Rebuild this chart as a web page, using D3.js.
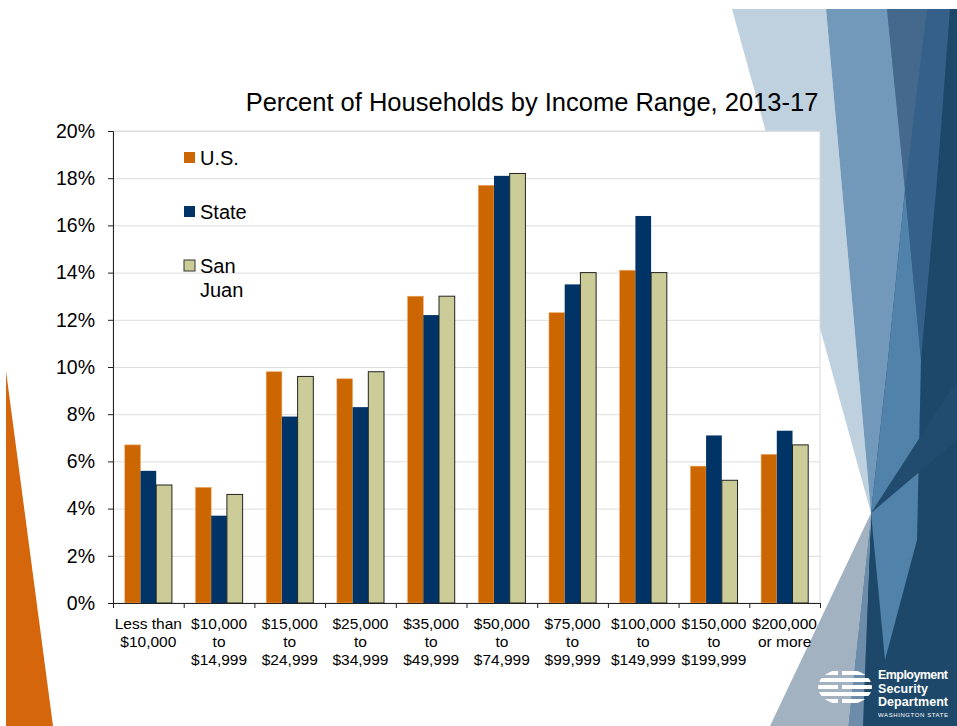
<!DOCTYPE html>
<html lang="en">
<head>
    <meta charset="UTF-8">
    <title>Percent of Households by Income Range</title>
    <style>
        body { margin: 0; background: #fff; }
        svg text { font-family: "Liberation Sans", Arial, sans-serif; fill: #000; }
        .grid line { stroke: #dddddd; }
        .grid path { display: none; }
        .axis path, .axis line { stroke: #222; }
    </style>
    <script src="https://d3js.org/d3.v7.min.js"></script>
</head>
<body>
<svg width="957" height="726"></svg>
<script>
    // data (percent of households)
    var categories = ["<10k", "10-15k", "15-25k", "25-35k", "35-50k", "50-75k", "75-100k", "100-150k", "150-200k", "200k+"];
    var xLabels = [
        ["Less than", "$10,000"],
        ["$10,000", "to", "$14,999"],
        ["$15,000", "to", "$24,999"],
        ["$25,000", "to", "$34,999"],
        ["$35,000", "to", "$49,999"],
        ["$50,000", "to", "$74,999"],
        ["$75,000", "to", "$99,999"],
        ["$100,000", "to", "$149,999"],
        ["$150,000", "to", "$199,999"],
        ["$200,000", "or more"]
    ];
    var series = ["U.S.", "State", "San Juan"];
    var usValues = [6.7, 4.9, 9.8, 9.5, 13.0, 17.7, 12.3, 14.1, 5.8, 6.3];
    var stateValues = [5.6, 3.7, 7.9, 8.3, 12.2, 18.1, 13.5, 16.4, 7.1, 7.3];
    var sanJuanValues = [5.0, 4.6, 9.6, 9.8, 13.0, 18.2, 14.0, 14.0, 5.2, 6.7];
    var yTicks = [0, 2, 4, 6, 8, 10, 12, 14, 16, 18, 20];
    var colors = ["#cc6600", "#003366", "#cccc99"];

    var svg = d3.select("svg");

    // ---- slide decoration ----
    var deco = svg.append("g");
    var polys = [
        { c: "#d5660c", p: [[6, 371], [6, 726], [53, 726]] },
        { c: "#1d4869", p: [[887, 9], [957, 9], [957, 726], [862, 726], [871, 513]] },
        { c: "#35608a", p: [[900, 9], [950, 9], [937, 180], [921, 360], [905, 190]] },
        { c: "#44698c", p: [[887, 9], [927, 9], [905, 190]] },
        { c: "#bfd1df", p: [[732, 9], [826, 9], [871, 513]] },
        { c: "#7299ba", p: [[826, 9], [887, 9], [905, 190], [888, 360], [871, 513]] },
        { c: "#5182aa", p: [[905, 190], [921, 360], [917, 540], [885, 660], [871, 513], [888, 360]] },
        { c: "#214c70", p: [[871, 513], [957, 380], [957, 440]] },
        { c: "#a2b2c0", p: [[871, 513], [848, 726], [770, 726]] },
        { c: "#6c8ca9", p: [[871, 513], [863, 726], [848, 726]] }
    ];
    deco.selectAll("polygon")
        .data(polys)
        .enter().append("polygon")
        .attr("points", function (d) { return d.p.map(function (q) { return q.join(","); }).join(" "); })
        .attr("fill", function (d) { return d.c; });

    // logo
    svg.append("clipPath").attr("id", "globe")
        .append("ellipse").attr("cx", 845).attr("cy", 687).attr("rx", 27).attr("ry", 18);
    var logo = svg.append("g").attr("clip-path", "url(#globe)");
    [671, 678, 685, 692, 699].forEach(function (yy, i) {
        logo.append("rect").attr("x", 812 + (i % 2) * 4).attr("y", yy).attr("width", 26).attr("height", 4).attr("fill", "#fff");
        logo.append("rect").attr("x", 842).attr("y", yy).attr("width", 32).attr("height", 4).attr("fill", "#fff");
    });
    var logoText = svg.append("g").attr("transform", "translate(878,0)");
    ["Employment", "Security", "Department"].forEach(function (t, i) {
        logoText.append("text").attr("y", 679 + i * 13.5).text(t)
            .style("font-size", "12.5px").style("font-weight", "bold").style("fill", "#fff")
            .attr("textLength", t === "Security" ? 50 : 70);
    });
    logoText.append("text").attr("y", 717).text("WASHINGTON STATE")
        .style("font-size", "6px").style("fill", "#fff").attr("textLength", 70);

    // ---- chart ----
    var plotLeft = 113, plotRight = 820, plotTop = 131, plotBottom = 603;

    var x = d3.scaleBand().domain(categories).range([plotLeft, plotRight]);
    var xs = d3.scaleBand().domain(series).range([0, x.bandwidth()]).paddingOuter(0.75);
    var y = d3.scaleLinear().domain([0, 20]).range([plotBottom, plotTop]);

    svg.append("rect").attr("x", plotLeft).attr("y", plotTop)
        .attr("width", plotRight - plotLeft).attr("height", plotBottom - plotTop)
        .attr("fill", "#fff").attr("stroke", "#d9d9d9");

    svg.append("g").attr("class", "grid")
        .attr("transform", "translate(" + plotLeft + ",0)")
        .call(d3.axisLeft(y).tickValues(yTicks.slice(1)).tickSize(-(plotRight - plotLeft)).tickFormat(""));

    var rows = categories.map(function (c, i) {
        return { cat: c, vals: [usValues[i], stateValues[i], sanJuanValues[i]] };
    });

    var groups = svg.append("g").selectAll("g")
        .data(rows)
        .enter().append("g")
        .attr("transform", function (d) { return "translate(" + x(d.cat) + ",0)"; });

    groups.selectAll("rect")
        .data(function (d) { return d.vals.map(function (v, k) { return { s: series[k], v: v, k: k }; }); })
        .enter().append("rect")
        .attr("x", function (d) { return xs(d.s); })
        .attr("y", function (d) { return y(d.v); })
        .attr("width", xs.bandwidth())
        .attr("height", function (d) { return plotBottom - y(d.v); })
        .attr("fill", function (d) { return colors[d.k]; })
        .attr("stroke", function (d) { return d.k === 2 ? "#222" : (d.k === 0 ? "#f0a868" : "none"); })
        .attr("stroke-width", function (d) { return d.k === 0 ? 0.6 : 1; });

    // y axis
    var yAxis = svg.append("g").attr("class", "axis")
        .attr("transform", "translate(" + plotLeft + ",0)")
        .call(d3.axisLeft(y).tickValues(yTicks).tickSize(5).tickPadding(13)
            .tickFormat(function (d) { return d + "%"; }));
    yAxis.selectAll("text").style("font-size", "19.5px").style("font-family", "Liberation Sans, Arial, sans-serif");

    // x axis with boundary ticks
    var xb = d3.scaleLinear().domain([0, categories.length]).range([plotLeft, plotRight]);
    svg.append("g").attr("class", "axis")
        .attr("transform", "translate(0," + plotBottom + ")")
        .call(d3.axisBottom(xb).ticks(categories.length).tickSize(5).tickFormat(""));

    var lab = svg.append("g").selectAll("text")
        .data(xLabels)
        .enter().append("text")
        .attr("text-anchor", "middle")
        .style("font-size", "15.5px")
        .attr("transform", function (d, i) { return "translate(" + (x(categories[i]) + x.bandwidth() / 2) + ",0)"; });
    lab.selectAll("tspan")
        .data(function (d) { return d; })
        .enter().append("tspan")
        .attr("x", 0)
        .attr("y", function (d, j) { return 628.5 + j * 18; })
        .text(function (d) { return d; });

    // title
    svg.append("text")
        .attr("x", 532).attr("y", 111)
        .attr("text-anchor", "middle")
        .style("font-size", "25.5px")
        .text("Percent of Households by Income Range, 2013-17");

    // legend
    var legendY = [157.5, 211.5, 265.5];
    var legend = svg.append("g").selectAll("g")
        .data(series)
        .enter().append("g")
        .attr("transform", function (d, i) { return "translate(184," + legendY[i] + ")"; });
    legend.append("rect")
        .attr("x", 0).attr("y", -5.5).attr("width", 11).attr("height", 11)
        .attr("fill", function (d, i) { return colors[i]; })
        .attr("stroke", function (d, i) { return i === 2 ? "#333" : "none"; });
    legend.append("text")
        .attr("x", 16).attr("y", 7.5)
        .style("font-size", "20px")
        .each(function (d) {
            var words = d.split(" ");
            var t = d3.select(this);
            words.forEach(function (w, j) {
                t.append("tspan").attr("x", 16).attr("dy", j === 0 ? 0 : 24).text(w);
            });
        });
</script>
</body>
</html>
